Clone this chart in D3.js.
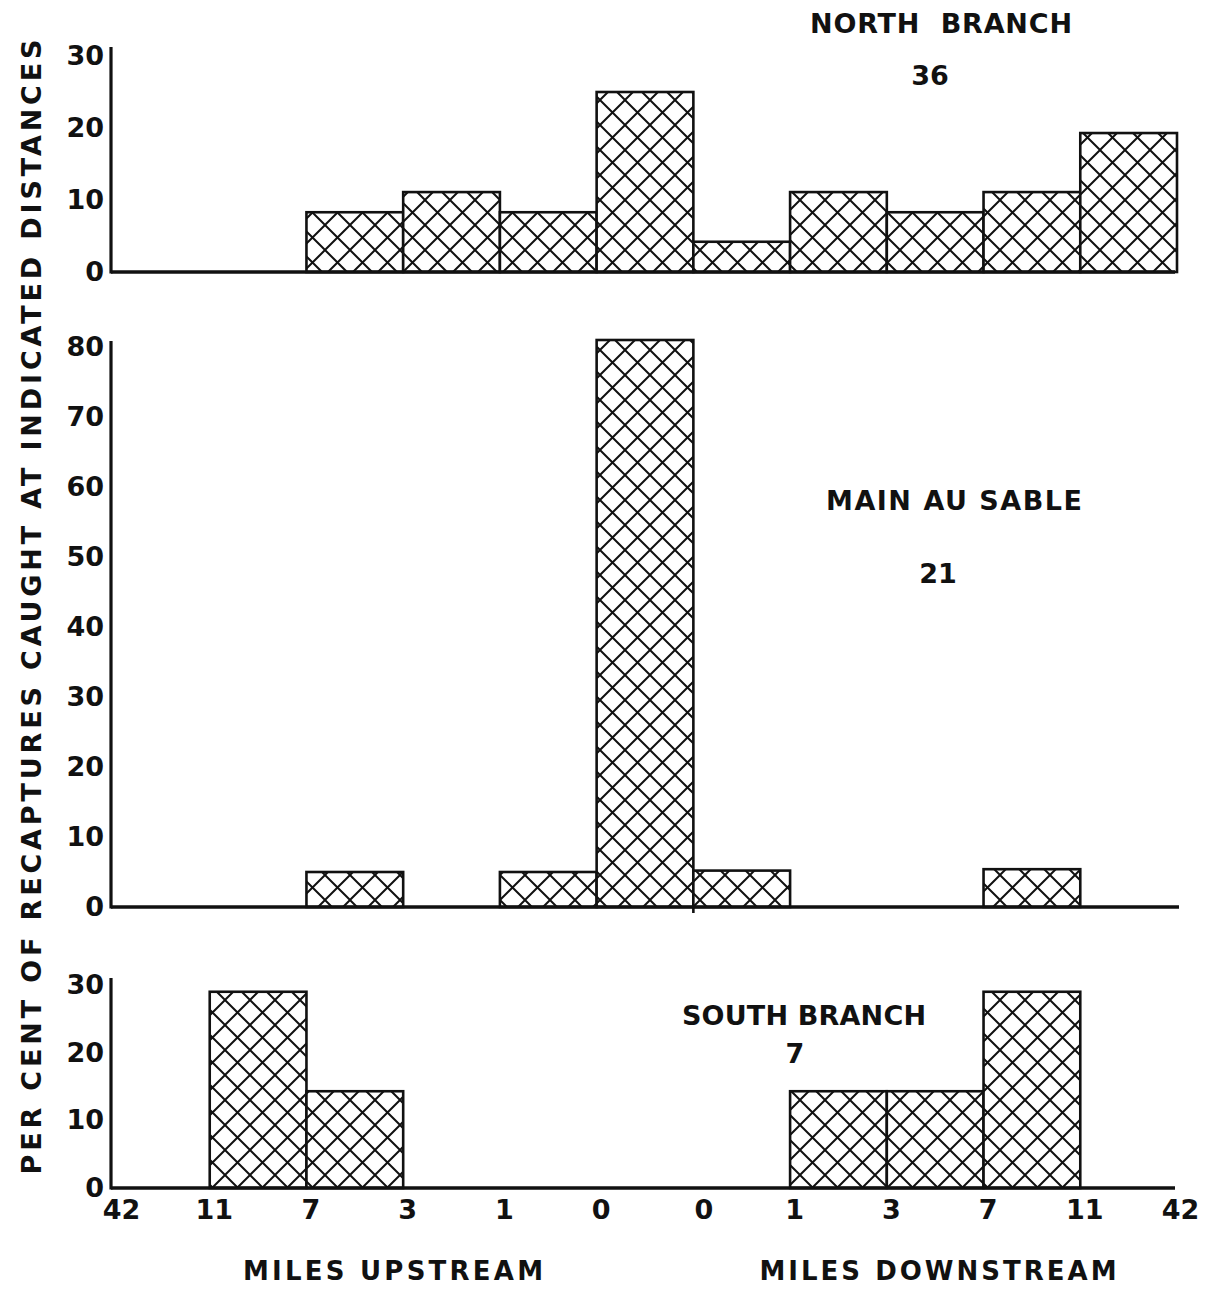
<!DOCTYPE html>
<html><head><meta charset="utf-8">
<script src="https://cdn.jsdelivr.net/npm/d3@7"></script>
<style>
html,body{margin:0;padding:0;background:#fff;}
svg{display:block;}
text{font-family:"DejaVu Sans",sans-serif;font-weight:bold;fill:#111;}
</style></head>
<body>
<div id="chart"></div>
<script>
// ---- data ----
const edgeLabels = ["42","11","7","3","1","0","0","1","3","7","11","42"];
const bins = [0,1,2,3,4,5,6,7,8,9,10];
const northValues = [0, 0, 8.3, 11.1, 8.3, 25, 4.2, 11.1, 8.3, 11.1, 19.3];
const mainValues  = [0, 0, 5, 0, 5, 81, 5.2, 0, 0, 5.4, 0];
const southValues = [0, 29, 14.3, 0, 0, 0, 0, 14.3, 14.3, 29, 0];
const northTicks = [0,10,20,30];
const mainTicks  = [0,10,20,30,40,50,60,70,80];
const southTicks = [0,10,20,30];

const W = 1215, H = 1289;
const svg = d3.select("#chart").append("svg").attr("width", W).attr("height", H);

const defs = svg.append("defs");
const pat = defs.append("pattern").attr("id","hatch").attr("patternUnits","userSpaceOnUse")
  .attr("width",25).attr("height",25);
pat.append("rect").attr("width",25).attr("height",25).attr("fill","#fff");
pat.append("path").attr("d","M0,0L25,25M0,25L25,0M-2,2L2,-2M23,27L27,23M-2,23L2,27M23,-2L27,2")
  .attr("stroke","#111").attr("stroke-width",2);

const x = d3.scaleLinear().domain([0,11]).range([113,1177]);
const axisX0 = 111;

const panels = [
  {values:northValues, ticks:northTicks, domain:[0,30], range:[272,56], top:47, xEnd:1175,
   title:"NORTH  BRANCH", tx:941, ty:33, tl:262, count:"36", cx:930, cy:85},
  {values:mainValues, ticks:mainTicks, domain:[0,80], range:[907,347], top:341, xEnd:1179,
   title:"MAIN AU SABLE", tx:954, ty:510, tl:256, count:"21", cx:938, cy:583},
  {values:southValues, ticks:southTicks, domain:[0,30], range:[1188,985], top:978, xEnd:1175,
   title:"SOUTH BRANCH", tx:804, ty:1025, tl:244, count:"7", cx:795, cy:1063}
];

panels.forEach((p,i) => {
  const y = d3.scaleLinear().domain(p.domain).range(p.range);
  const g = svg.append("g");
  // bars
  g.selectAll("rect.bar").data(bins.filter(b => p.values[b] > 0)).join("rect")
    .attr("class","bar")
    .attr("x", b => x(b)).attr("width", b => x(b+1) - x(b))
    .attr("y", b => y(p.values[b])).attr("height", b => y(0) - y(p.values[b]))
    .attr("fill","url(#hatch)").attr("stroke","#111").attr("stroke-width",2.6);
  // y axis
  const ya = d3.axisLeft(y).tickValues(p.ticks).tickSize(0).tickPadding(0).tickFormat(d3.format("d"));
  const yg = g.append("g").attr("transform",`translate(104,0)`).call(ya);
  yg.select(".domain").remove();
  yg.selectAll("text").attr("font-size",27).attr("font-family","DejaVu Sans").attr("font-weight","bold").attr("fill","#111");
  g.append("line").attr("x1",axisX0).attr("x2",axisX0).attr("y1",p.top).attr("y2",y(0)+1.5)
    .attr("stroke","#111").attr("stroke-width",3.2);
  g.append("line").attr("x1",axisX0).attr("x2",p.xEnd).attr("y1",y(0)).attr("y2",y(0))
    .attr("stroke","#111").attr("stroke-width",3.6);
  // titles
  g.append("text").attr("x",p.tx).attr("y",p.ty).attr("text-anchor","middle")
    .attr("font-size",27).attr("textLength",p.tl).attr("lengthAdjust","spacing").attr("style","white-space:pre").text(p.title);
  g.append("text").attr("x",p.cx).attr("y",p.cy).attr("text-anchor","middle")
    .attr("font-size",27).text(p.count);
  if (i === 1) {
    g.append("line").attr("x1",x(6)).attr("x2",x(6)).attr("y1",y(0)).attr("y2",y(0)+6)
      .attr("stroke","#111").attr("stroke-width",2.6);
  }
  if (i === 2) {
    const xa = d3.axisBottom(x).tickValues(d3.range(12)).tickSize(0).tickPadding(0)
      .tickFormat(d => edgeLabels[d]);
    const xg = g.append("g").attr("transform",`translate(0,${y(0)+12})`).call(xa);
    xg.select(".domain").remove();
    xg.selectAll("text").attr("font-size",27).attr("font-family","DejaVu Sans").attr("font-weight","bold").attr("fill","#111")
      .attr("dy","0.72em").attr("dx", d => d === 0 ? 8 : (d === 6 ? 10 : (d===11 ? 3 : 4)));
  }
});

svg.append("text").attr("x",393).attr("y",1280).attr("text-anchor","middle")
  .attr("font-size",26).attr("textLength",300).attr("lengthAdjust","spacing").text("MILES UPSTREAM");
svg.append("text").attr("x",938).attr("y",1280).attr("text-anchor","middle")
  .attr("font-size",26).attr("textLength",357).attr("lengthAdjust","spacing").text("MILES DOWNSTREAM");

svg.append("text").attr("transform","translate(41,607) rotate(-90)").attr("text-anchor","middle")
  .attr("font-size",27).attr("textLength",1135).attr("lengthAdjust","spacing")
  .text("PER CENT OF RECAPTURES CAUGHT AT INDICATED DISTANCES");
</script>
</body></html>
